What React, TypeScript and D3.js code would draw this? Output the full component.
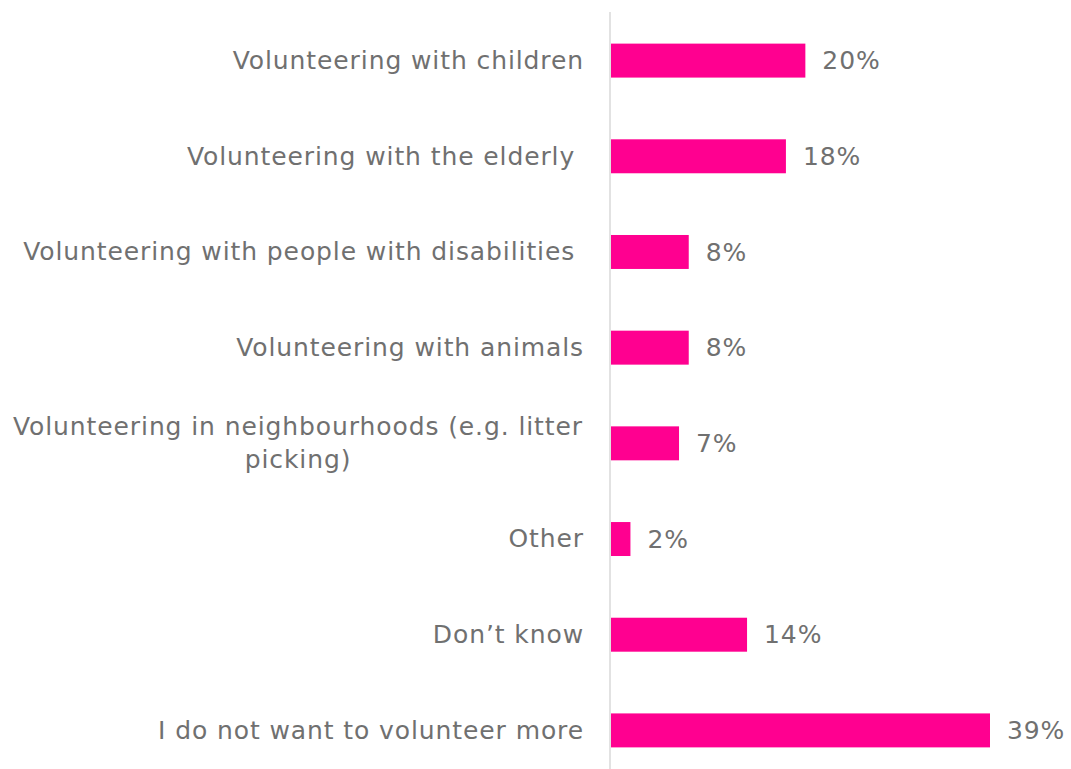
import React from "react";
import * as d3 from "d3";

const categories: string[][] = [
  ["Volunteering with children"],
  ["Volunteering with the elderly "],
  ["Volunteering with people with disabilities "],
  ["Volunteering with animals"],
  ["Volunteering in neighbourhoods (e.g. litter", "picking)"],
  ["Other"],
  ["Don\u2019t know"],
  ["I do not want to volunteer more"],
];
const values: number[] = [20, 18, 8, 8, 7, 2, 14, 39];
const valueLabels: string[] = ["20%", "18%", "8%", "8%", "7%", "2%", "14%", "39%"];

const W = 1071;
const H = 769;
const axisX = 610;
const font = "Verdana, 'DejaVu Sans', sans-serif";
const textColor = "#707070";
const barColor = "#FF0090";
const FS = 25;
const LS = 0.9;

export default function App() {
  const x = d3.scaleLinear().domain([0, 39]).range([axisX + 1, 990]);
  const y = d3
    .scaleBand<number>()
    .domain(d3.range(values.length))
    .range([13, 778])
    .paddingInner(0.645)
    .paddingOuter(0.32);
  const bw = y.bandwidth();
  return (
    <svg
      width={W}
      height={H}
      style={{ position: "absolute", left: 0, top: 0 }}
      fontFamily={font}
    >
      <rect width={W} height={H} fill="#fff" />
      <line x1={axisX} x2={axisX} y1={12} y2={H} stroke="#d9d9d9" strokeWidth={1.5} />
      {values.map((v, i) => {
        const yc = (y(i) as number) + bw / 2;
        const lines = categories[i];
        const lh = 33;
        const multi = lines.length > 1;
        return (
          <g key={i}>
            <rect x={x(0)} y={y(i)} width={x(v) - x(0)} height={bw} fill={barColor} />
            <text
              x={x(v) + 17}
              y={yc}
              dy="0.35em"
              fontSize={FS}
              letterSpacing={LS}
              fill={textColor}
            >
              {valueLabels[i]}
            </text>
            {multi ? (
              <text
                fontSize={FS}
                letterSpacing={LS}
                fill={textColor}
                textAnchor="middle"
                style={{ whiteSpace: "pre" }}
              >
                {lines.map((l, j) => (
                  <tspan key={j} x={298} y={yc + (j - (lines.length - 1) / 2) * lh} dy="0.33em">
                    {l}
                  </tspan>
                ))}
              </text>
            ) : (
              <text
                x={584}
                y={yc}
                dy="0.33em"
                fontSize={FS}
                letterSpacing={LS}
                fill={textColor}
                textAnchor="end"
                style={{ whiteSpace: "pre" }}
              >
                {lines[0]}
              </text>
            )}
          </g>
        );
      })}
    </svg>
  );
}
